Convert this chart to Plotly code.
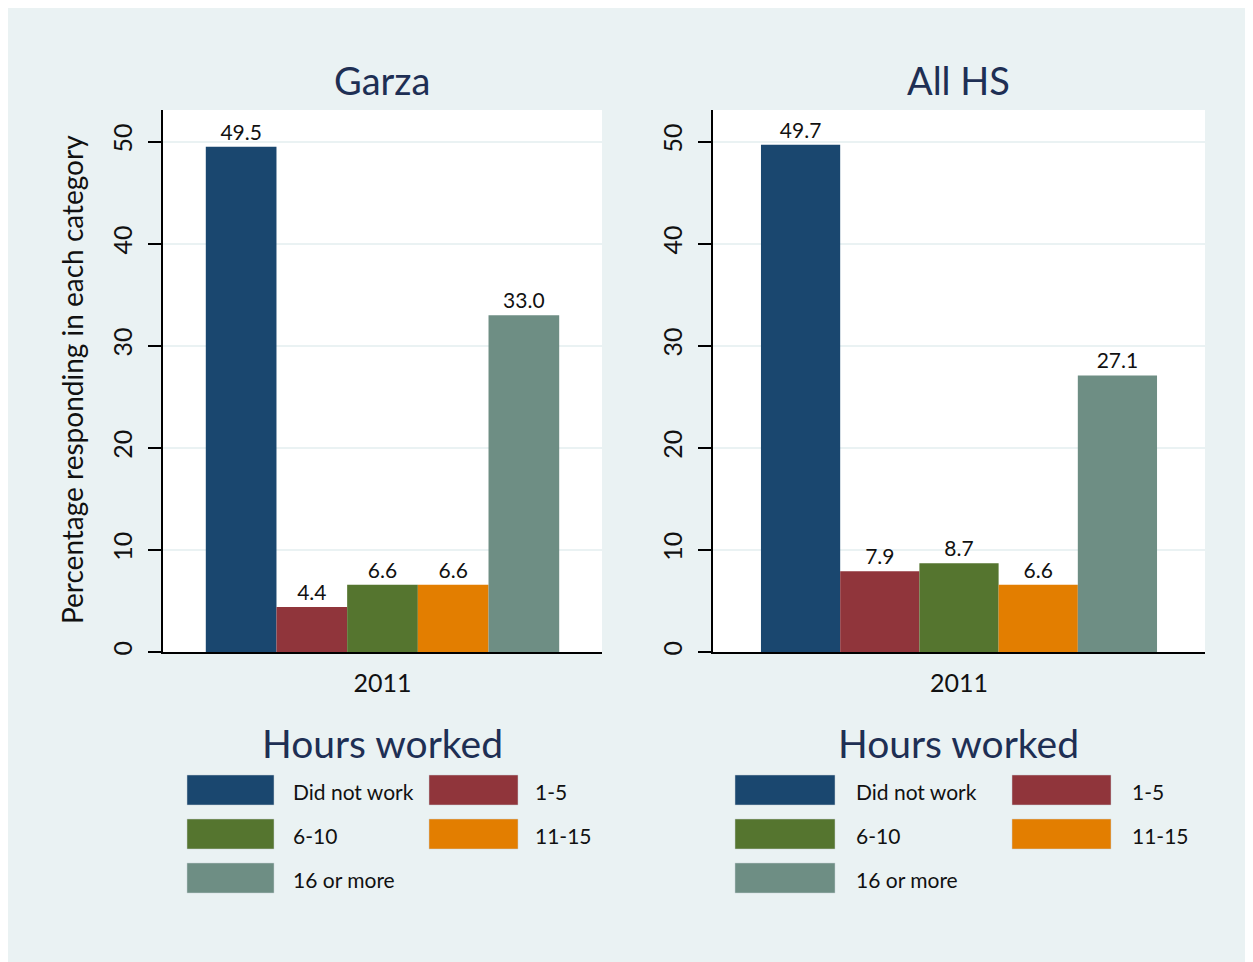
import plotly.graph_objects as go
from plotly.subplots import make_subplots

# data
panels = ['Garza', 'All HS']
year = ['2011']
categories = ['Did not work', '1-5', '6-10', '11-15', '16 or more']
garza_values = [49.5, 4.4, 6.6, 6.6, 33.0]
all_hs_values = [49.7, 7.9, 8.7, 6.6, 27.1]
y_ticks = [0, 10, 20, 30, 40, 50]

colors = ['#1a476f', '#90353b', '#55752f', '#e37e00', '#6e8e84']
bg = '#eaf2f3'
title_color = '#1e2f54'
text_color = '#111111'
font = 'Lato'

W, H = 1253, 962
ML, MR, MT, MB = 155, 56, 102, 318
PW, PH = W - ML - MR, H - MT - MB


def px(x):
    # screenshot pixel -> paper x
    return (x - 8 - ML) / PW


def py(y):
    # screenshot pixel -> paper y
    return (H - MB - (y - 8)) / PH


fig = make_subplots(rows=1, cols=2, horizontal_spacing=0.1)

for col, values in enumerate([garza_values, all_hs_values], start=1):
    for cat, val, color in zip(categories, values, colors):
        fig.add_trace(
            go.Bar(
                x=year, y=[val], name=cat, marker=dict(color=color, line=dict(width=0)),
                texttemplate='%{y:.1f}', textposition='outside', cliponaxis=False,
                textfont=dict(size=21, color=text_color, family=font), showlegend=False,
            ), row=1, col=col
        )

fig.update_layout(
    width=W, height=H, margin=dict(l=ML, r=MR, t=MT, b=MB),
    paper_bgcolor=bg, plot_bgcolor='white', barmode='group', bargap=0.195, bargroupgap=0,
    font=dict(family=font, color=text_color),
    xaxis=dict(domain=[0, 439 / PW]),
    xaxis2=dict(domain=[(713 - 8 - ML) / PW, 1]),
)
fig.update_yaxes(
    range=[0, 53.1], tickvals=y_ticks, tickangle=-90, ticks='outside', ticklen=13, tickcolor='black',
    tickwidth=1.5, showline=True, linecolor='black', linewidth=1.5, gridcolor=bg, gridwidth=2,
    zeroline=False, tickfont=dict(size=25, family=font, color=text_color), ticklabelstandoff=6,
)
fig.update_xaxes(
    showline=True, linecolor='black', linewidth=1.5, ticks='', showgrid=False,
    tickfont=dict(size=25, family=font, color=text_color), ticklabelstandoff=8,
)

annotations = []
for i, name in enumerate(panels):
    cx = 382 if i == 0 else 958
    annotations.append(dict(text=name, x=px(cx), y=py(80), xref='paper', yref='paper', showarrow=False,
                            xanchor='center', yanchor='middle',
                            font=dict(size=38, color=title_color, family=font)))
    annotations.append(dict(text='Hours worked', x=px(cx), y=py(743), xref='paper', yref='paper',
                            showarrow=False, xanchor='center', yanchor='middle',
                            font=dict(size=39, color=title_color, family=font)))

annotations.append(dict(text='Percentage responding in each category', x=px(72), y=py(380), xref='paper',
                        yref='paper', showarrow=False, textangle=-90, xanchor='center', yanchor='middle',
                        font=dict(size=28, color=text_color, family=font)))

# legend swatches drawn under each panel
legend_cols = [
    [(187, 274, 291), (429, 518, 533)],
    [(735, 835, 854), (1012, 1111, 1130)],
]
row_tops = [775, 819, 863]
shapes = []
for cols in legend_cols:
    for k, (cat, color) in enumerate(zip(categories, colors)):
        r, c = divmod(k, 2)
        x0, x1, tx = cols[c]
        y0 = row_tops[r]
        shapes.append(dict(type='rect', xref='paper', yref='paper', x0=px(x0), x1=px(x1), y0=py(y0 + 30),
                           y1=py(y0), fillcolor=color, line=dict(width=0.5, color='#c8d0d4')))
        annotations.append(dict(text=cat, x=px(tx), y=py(y0 + 16), xref='paper', yref='paper',
                                showarrow=False, xanchor='left', yanchor='middle',
                                font=dict(size=21, color=text_color, family=font)))

fig.update_layout(annotations=annotations, shapes=shapes)

fig.write_html("out.html", post_script="document.body.style.overflow='hidden';")
